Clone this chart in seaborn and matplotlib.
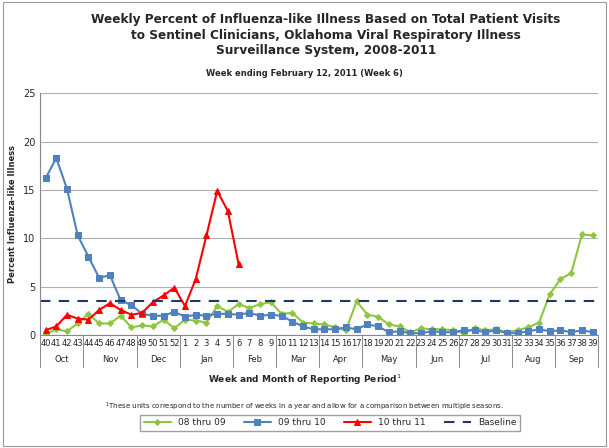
import matplotlib
matplotlib.use("Agg")
import matplotlib.pyplot as plt
import seaborn as sns
import pandas as pd

weeks = [str(w) for w in list(range(40, 53)) + list(range(1, 40))]
s0809 = [0.1, 0.6, 0.4, 1.2, 2.2, 1.2, 1.2, 2.0, 0.8, 1.0, 0.9, 1.6, 0.7,
         1.6, 1.5, 1.3, 3.0, 2.4, 3.2, 2.8, 3.2, 3.4, 2.2, 2.3, 1.3, 1.2, 1.1,
         0.8, 0.5, 3.5, 2.1, 1.9, 1.1, 0.9, 0.3, 0.7, 0.6, 0.6, 0.5, 0.2, 0.7,
         0.5, 0.6, 0.3, 0.5, 0.8, 1.3, 4.2, 5.8, 6.4, 10.4, 10.3]
s0910 = [16.2, 18.3, 15.1, 10.3, 8.1, 5.9, 6.2, 3.6, 3.1, 2.2, 2.0, 2.0, 2.4,
         1.9, 2.1, 2.0, 2.2, 2.2, 2.1, 2.3, 2.0, 2.1, 2.0, 1.4, 0.9, 0.6, 0.6,
         0.6, 0.8, 0.6, 1.1, 0.9, 0.3, 0.4, 0.2, 0.2, 0.4, 0.3, 0.3, 0.5, 0.5,
         0.3, 0.5, 0.2, 0.2, 0.4, 0.6, 0.4, 0.5, 0.3, 0.5, 0.3]
s1011 = [0.5, 0.9, 2.1, 1.7, 1.6, 2.6, 3.3, 2.6, 2.1, 2.3, 3.4, 4.1, 4.9,
         3.0, 5.8, 10.3, 14.9, 12.8, 7.3]
baseline = 3.5
months = ["Oct", "Nov", "Dec", "Jan", "Feb", "Mar", "Apr", "May", "Jun", "Jul", "Aug", "Sep"]
month_edges = [0, 4, 9, 13, 18, 22, 26, 30, 35, 39, 44, 48, 52]

sns.set_style("white")
fig = plt.figure(figsize=(6.09, 4.48), dpi=100)
ax = fig.add_axes([0.066, 0.252, 0.916, 0.54])

x = list(range(len(weeks)))
df = pd.DataFrame({"x": x, "y": s0809})
sns.lineplot(data=df, x="x", y="y", ax=ax, color="#8DC63F", marker="D", markersize=3,
             markeredgecolor="#8DC63F", lw=1.5, label="08 thru 09")
df = pd.DataFrame({"x": x, "y": s0910})
sns.lineplot(data=df, x="x", y="y", ax=ax, color="#4F81BD", marker="s", markersize=4.5,
             markeredgecolor="#4F81BD", lw=1.5, label="09 thru 10")
df = pd.DataFrame({"x": x[:len(s1011)], "y": s1011})
sns.lineplot(data=df, x="x", y="y", ax=ax, color="#FF0000", marker="^", markersize=4,
             markeredgecolor="#FF0000", lw=1.5, label="10 thru 11")
ax.axhline(baseline, color="#1F3864", ls=(0, (5, 4)), lw=1.5, label="Baseline")

ax.set_xlim(-0.5, len(weeks) - 0.5)
ax.set_ylim(0, 25)
ax.set_yticks(range(0, 26, 5))
ax.yaxis.grid(True, color="#b0b0b0", lw=0.8)
ax.set_xticks(x)
ax.set_xticklabels(weeks, fontsize=6)
ax.tick_params(axis="y", labelsize=7, length=0)
ax.tick_params(axis="x", length=0, pad=3)
for s in ["top", "right"]:
    ax.spines[s].set_visible(False)
ax.spines["left"].set_color("#888888")
ax.spines["bottom"].set_color("#888888")
ax.set_xlabel("")
ax.set_ylabel("Percent Influenza-like Illness", fontsize=6, fontweight="bold")

tr = ax.get_xaxis_transform()
for i, m in enumerate(months):
    mid = (month_edges[i] + month_edges[i + 1]) / 2 - 0.5
    ax.text(mid, -0.1, m, transform=tr, ha="center", va="center", fontsize=6)
for e in month_edges:
    ax.plot([e - 0.5, e - 0.5], [0, -0.13], transform=tr, color="#888888", lw=0.7, clip_on=False)

fig.text(0.535, 0.97, "Weekly Percent of Influenza-like Illness Based on Total Patient Visits\n"
         "to Sentinel Clinicians, Oklahoma Viral Respiratory Illness\nSurveillance System, 2008-2011",
         ha="center", va="top", fontsize=8.7, fontweight="bold", linespacing=1.25)
fig.text(0.5, 0.83, "Week ending February 12, 2011 (Week 6)", ha="center", fontsize=6, fontweight="bold")
fig.text(0.5, 0.145, "Week and Month of Reporting Period$^{1}$", ha="center", fontsize=6.5, fontweight="bold")
fig.text(0.5, 0.085, "$^{1}$These units correspond to the number of weeks in a year and allow for a comparison between multiple seasons.",
         ha="center", fontsize=5)

ax.legend(loc="upper center", bbox_to_anchor=(0.52, -0.31), ncol=4, fontsize=6.5,
          frameon=True, fancybox=False, edgecolor="#888888", handlelength=3, columnspacing=2)
fig.patches.append(plt.Rectangle((0.005, 0.005), 0.99, 0.99, transform=fig.transFigure,
                                 fill=False, edgecolor="#999999", lw=0.8))
fig.savefig("out.png", dpi=100)
